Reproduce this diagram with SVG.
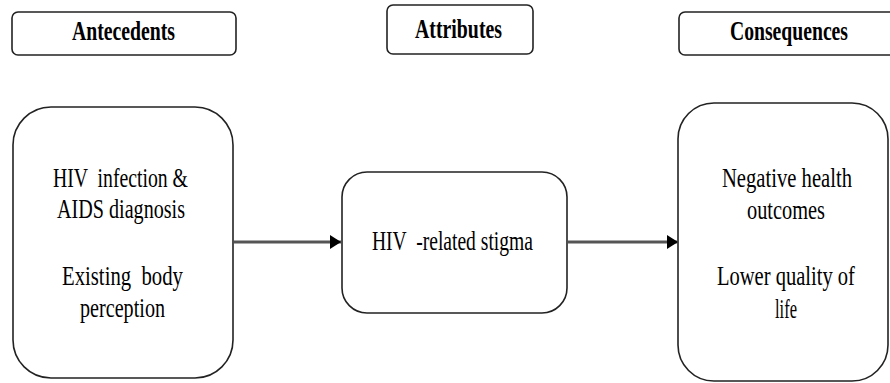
<svg xmlns="http://www.w3.org/2000/svg" width="890" height="383" viewBox="0 0 890 383">
<style>
  .box{fill:#fff;stroke:#222;stroke-width:1.6}
  .head{font-weight:bold;font-size:27px;fill:#000}
  .txt{font-size:27px;fill:#000}
  .conn{stroke:#555;stroke-width:3;fill:none}
</style>
<defs>
  <marker id="arr" markerUnits="userSpaceOnUse" markerWidth="12" markerHeight="14" refX="11" refY="7" orient="auto">
    <path d="M0,0 L11,7 L0,14 Z" fill="#000"/>
  </marker>
</defs>
<rect width="890" height="383" fill="#fff"/>
<g font-family="Liberation Serif, Times New Roman, serif">
<g id="antecedents-header">
  <rect class="box" x="12" y="12" width="224" height="43" rx="6"/>
  <text class="head" transform="scale(0.78,1)" x="92.3" y="40" textLength="132.1" lengthAdjust="spacingAndGlyphs">Antecedents</text>
</g>
<g id="attributes-header">
  <rect class="box" x="387" y="5" width="146" height="49" rx="6"/>
  <text class="head" transform="scale(0.78,1)" x="532.1" y="38" textLength="111.5" lengthAdjust="spacingAndGlyphs">Attributes</text>
</g>
<g id="consequences-header">
  <path class="box" d="M890,12 H685 A6,6 0 0 0 679,18 V49 A6,6 0 0 0 685,55 H890"/>
  <text class="head" transform="scale(0.78,1)" x="935.9" y="40" textLength="151.3" lengthAdjust="spacingAndGlyphs">Consequences</text>
</g>
<g id="antecedents">
  <rect class="box" x="13" y="107" width="220" height="271" rx="38"/>
  <text class="txt" transform="scale(0.78,1)" x="67.9" y="187" textLength="173.1" lengthAdjust="spacingAndGlyphs" xml:space="preserve">HIV  infection &amp;</text>
  <text class="txt" transform="scale(0.78,1)" x="73.1" y="218" textLength="164.1" lengthAdjust="spacingAndGlyphs">AIDS diagnosis</text>
  <text class="txt" transform="scale(0.78,1)" x="79.5" y="285" textLength="155.1" lengthAdjust="spacingAndGlyphs" xml:space="preserve">Existing  body</text>
  <text class="txt" transform="scale(0.78,1)" x="102.6" y="317" textLength="109" lengthAdjust="spacingAndGlyphs">perception</text>
</g>
<g id="attributes">
  <rect class="box" x="342" y="172" width="225" height="141" rx="25"/>
  <text class="txt" transform="scale(0.78,1)" x="476.9" y="250" textLength="206.4" lengthAdjust="spacingAndGlyphs" xml:space="preserve">HIV  -related stigma</text>
</g>
<g id="consequences">
  <rect class="box" x="678" y="103" width="210" height="278" rx="36"/>
  <text class="txt" transform="scale(0.78,1)" x="925.6" y="187" textLength="166.7" lengthAdjust="spacingAndGlyphs">Negative health</text>
  <text class="txt" transform="scale(0.78,1)" x="957.7" y="219" textLength="100" lengthAdjust="spacingAndGlyphs">outcomes</text>
  <text class="txt" transform="scale(0.78,1)" x="919.2" y="285" textLength="176.9" lengthAdjust="spacingAndGlyphs">Lower quality of</text>
  <text class="txt" transform="scale(0.78,1)" x="993.6" y="318" textLength="28.2" lengthAdjust="spacingAndGlyphs">life</text>
</g>
</g>
<g id="connectors">
  <line class="conn" x1="234" y1="242" x2="341" y2="242" marker-end="url(#arr)"/>
  <line class="conn" x1="568" y1="242" x2="678" y2="242" marker-end="url(#arr)"/>
</g>
</svg>
